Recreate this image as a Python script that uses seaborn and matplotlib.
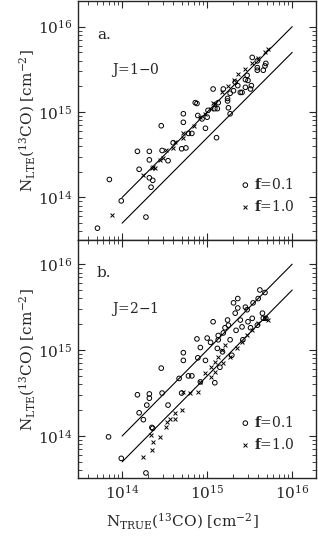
import matplotlib
matplotlib.use("Agg")
import matplotlib.pyplot as plt
import seaborn as sns
import numpy as np

# log10 column densities
# panel a, J=1-0
a_f01_x = [13.71, 13.85, 13.99, 14.28, 14.18, 14.20, 14.32, 14.32, 14.32, 14.36, 14.34, 14.46,
           14.47, 14.54, 14.60, 14.70, 14.72, 14.72, 14.75, 14.78, 14.82, 14.88, 14.89, 14.98,
           15.00, 15.01, 15.11, 15.12, 15.13, 15.19, 15.24, 15.25, 15.27, 15.27, 15.31, 15.33,
           15.36, 15.39, 15.45, 15.47, 15.48, 15.51, 15.52, 15.59, 15.59, 15.66, 15.68, 15.53,
           15.59, 14.86, 15.07, 15.09, 15.24, 14.94, 15.41, 15.69, 15.45]
a_f01_y = [13.64, 14.21, 13.96, 13.77, 14.54, 14.33, 14.54, 14.44, 14.23, 14.20, 14.12, 14.84,
           14.55, 14.43, 14.64, 14.57, 14.88, 14.98, 14.58, 14.75, 14.75, 15.10, 14.96, 14.81,
           14.94, 15.02, 14.70, 15.04, 15.11, 15.27, 15.13, 15.05, 14.98, 15.22, 15.25, 15.35,
           15.31, 15.23, 15.29, 15.43, 15.37, 15.27, 15.31, 15.49, 15.52, 15.49, 15.54, 15.64,
           15.60, 15.11, 15.27, 15.04, 15.16, 14.92, 15.23, 15.57, 15.38]
a_f10_x = [13.88, 14.24, 14.35, 14.39, 14.45, 14.48, 14.52, 14.60, 14.62, 14.72, 14.72, 14.84,
           14.92, 14.98, 15.04, 15.07, 15.09, 15.18, 15.24, 15.31, 15.36, 15.45, 15.53, 15.60,
           15.68, 15.72, 14.36]
a_f10_y = [13.79, 14.26, 14.35, 14.34, 14.44, 14.46, 14.56, 14.58, 14.65, 14.70, 14.75, 14.84,
           14.94, 14.98, 15.04, 15.11, 15.10, 15.23, 15.31, 15.37, 15.45, 15.51, 15.57, 15.63,
           15.70, 15.74, 14.36]

# panel b, J=2-1
b_f01_x = [13.84, 13.99, 14.28, 14.18, 14.20, 14.25, 14.29, 14.32, 14.32, 14.35, 14.36, 14.46,
           14.47, 14.54, 14.67, 14.70, 14.72, 14.72, 14.78, 14.82, 14.88, 14.89, 14.92, 14.98,
           15.00, 15.04, 15.07, 15.09, 15.12, 15.13, 15.13, 15.15, 15.18, 15.19, 15.21, 15.24,
           15.25, 15.27, 15.29, 15.31, 15.33, 15.34, 15.36, 15.39, 15.41, 15.42, 15.47, 15.48,
           15.51, 15.53, 15.54, 15.59, 15.60, 15.62, 15.65, 15.66, 15.68, 15.69, 15.36, 15.45,
           14.92]
b_f01_y = [13.99, 13.74, 13.57, 14.48, 14.27, 14.19, 14.36, 14.49, 14.44, 14.10, 14.09, 14.79,
           14.50, 14.36, 14.67, 14.50, 14.97, 14.88, 14.70, 14.70, 15.13, 14.91, 15.03, 14.88,
           15.14, 15.09, 15.33, 14.62, 15.02, 15.12, 15.17, 14.80, 14.98, 15.20, 15.26, 15.35,
           15.29, 15.12, 14.94, 15.55, 15.43, 15.23, 15.49, 15.35, 15.27, 15.12, 15.47, 15.33,
           15.26, 15.37, 15.55, 15.29, 15.60, 15.70, 15.43, 15.37, 15.67, 15.37, 15.60, 15.50,
           14.63]
b_f10_x = [14.24, 14.35, 14.36, 14.45, 14.34, 14.53, 14.62, 14.72, 14.80, 14.89, 14.92, 14.98,
           15.04, 15.09, 15.13, 15.18, 15.21, 15.19, 15.27, 15.35, 15.41, 15.47, 15.53, 15.60,
           15.68, 15.72, 15.09, 15.04, 14.52, 14.62, 14.70, 14.56]
b_f10_y = [13.76, 13.84, 13.93, 13.99, 14.01, 14.16, 14.27, 14.51, 14.50, 14.51, 14.63, 14.73,
           14.80, 14.86, 14.92, 15.00, 15.06, 14.85, 14.92, 15.02, 15.09, 15.17, 15.23, 15.31,
           15.37, 15.35, 14.74, 14.69, 14.10, 14.20, 14.30, 14.20]

# reference lines: N_LTE = N_TRUE and N_LTE = N_TRUE / 2
line_x = [1e14, 1e16]
ratios = [1.0, 0.5]

panels = [
    ("a.", "J=1$-$0", a_f01_x, a_f01_y, a_f10_x, a_f10_y, (10**13.50, 10**16.30)),
    ("b.", "J=2$-$1", b_f01_x, b_f01_y, b_f10_x, b_f10_y, (10**13.51, 10**16.28)),
]

sns.set_style("ticks")
plt.rcParams["font.family"] = ["DejaVu Serif"]
plt.rcParams["mathtext.fontset"] = "dejavuserif"
plt.rcParams["xtick.direction"] = "in"
plt.rcParams["ytick.direction"] = "in"
plt.rcParams["axes.linewidth"] = 1.0

fig = plt.figure(figsize=(3.18, 5.36), dpi=100)
ax_a = fig.add_axes([0.245, 0.552, 0.7487, 0.446])
ax_b = fig.add_axes([0.245, 0.108, 0.7487, 0.444])

for ax, (tag, trans, cx, cy, xx, xy, ylim) in zip([ax_a, ax_b], panels):
    ax.set_xscale("log")
    ax.set_yscale("log")
    for r in ratios:
        sns.lineplot(x=line_x, y=[v * r for v in line_x], ax=ax, color="black",
                     linewidth=0.8, legend=False)
    sns.scatterplot(x=10 ** np.array(cx), y=10 ** np.array(cy), ax=ax, marker="o",
                    s=11, facecolor="none", edgecolor="black", linewidth=0.7,
                    label=r"$\mathbf{f}$=0.1")
    sns.scatterplot(x=10 ** np.array(xx), y=10 ** np.array(xy), ax=ax, marker="x",
                    s=8, color="black", linewidth=0.7, label=r"$\mathbf{f}$=1.0")
    ax.set_xlim(10 ** 13.48, 10 ** 16.28)
    ax.set_ylim(*ylim)
    ax.tick_params(which="both", top=True, right=True, direction="in",
                   labelsize=11, pad=4)
    ax.tick_params(which="major", length=5, width=0.8)
    ax.tick_params(which="minor", length=3, width=0.6)
    ax.text(0.08, 0.86, tag, transform=ax.transAxes, fontsize=11, va="center")
    ax.text(0.14, 0.71, trans, transform=ax.transAxes, fontsize=10, va="center")
    ax.legend(loc="lower right", bbox_to_anchor=(0.95, 0.07), frameon=False,
              fontsize=10, handletextpad=0.1, handlelength=1.0, labelspacing=0.5,
              borderaxespad=0.3)
    ax.set_ylabel(r"N$_{\rm LTE}$($^{13}$CO) [cm$^{-2}$]", fontsize=11)
    ax.yaxis.set_label_coords(-0.17, 0.5)

ax_a.tick_params(labelbottom=False)
ax_a.set_xlabel("")
ax_b.set_xlabel(r"N$_{\rm TRUE}$($^{13}$CO) [cm$^{-2}$]", fontsize=11)
ax_b.xaxis.set_label_coords(0.44, -0.14)

fig.savefig("out.png", dpi=100)
